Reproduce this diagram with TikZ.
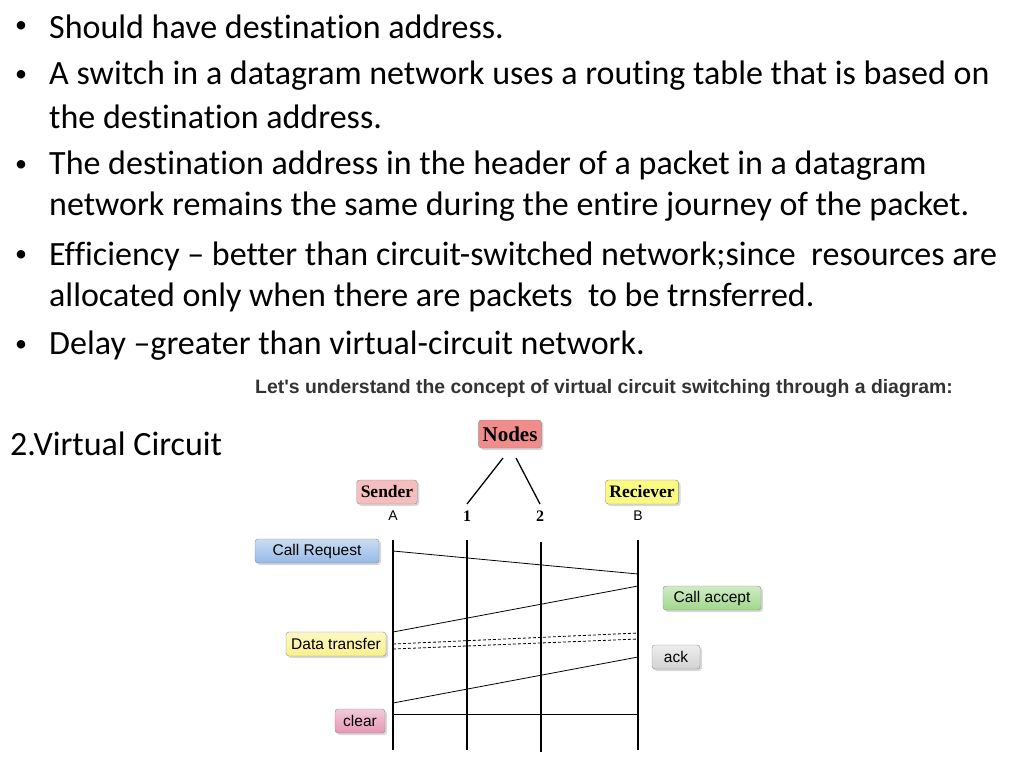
\documentclass[tikz,border=0pt]{standalone}
\usepackage{fontspec}
\setmainfont{Carlito}[Ligatures={NoCommon}]
\newfontfamily\arialf{Liberation Sans}
\newfontfamily\timesf{Liberation Serif}
\usetikzlibrary{shadows}
\definecolor{bluebox}{RGB}{150,185,230}
\definecolor{greenbox}{RGB}{160,215,140}
\definecolor{yellowbox}{RGB}{250,240,140}
\definecolor{graybox}{RGB}{210,210,210}
\definecolor{pinkbox}{RGB}{230,150,180}
\definecolor{redbox}{RGB}{240,140,140}
\definecolor{sendbox}{RGB}{245,190,190}
\definecolor{recvbox}{RGB}{250,250,130}
\tikzset{
 bul/.style={anchor=west,font=\fontsize{34}{36}\selectfont,inner sep=0pt},
 lbl/.style={draw=black!45,rounded corners=3pt,drop shadow={opacity=0.3,shadow xshift=2pt,shadow yshift=-2pt},font=\arialf\fontsize{15.5}{17}\selectfont,minimum height=24pt,inner xsep=4pt},
 hd/.style={draw=black!45,rounded corners=3pt,drop shadow={opacity=0.3,shadow xshift=2pt,shadow yshift=-2pt},font=\timesf\bfseries\fontsize{17.5}{19}\selectfont,minimum height=24pt,inner xsep=4pt},
 vl/.style={line width=2pt},
 ml/.style={line width=0.8pt},
 dl/.style={line width=0.8pt,dashed,dash pattern=on 3pt off 2pt},
 col/.style={font=\arialf\fontsize{14}{15}\selectfont,inner sep=0pt}
}
\begin{document}
\begin{tikzpicture}[x=1pt,y=-1pt]
\useasboundingbox (0,0) rectangle (1024,768);
\foreach \y in {27,76,166,256,346}{\node[font=\fontsize{24}{26}\selectfont,inner sep=0pt] at (21,\y) {•};}
\node[bul] (t1) at (49,27) {Should have destination address.};
\node[bul] (t2) at (49,76) {A switch in a datagram network uses a routing table that is based on};
\node[bul] (t3) at (49,117) {the destination address.};
\node[bul] (t4) at (49,166) {The destination address in the header of a packet in a datagram};
\node[bul] (t5) at (49,207) {network remains the same during the entire journey of the packet.};
\node[bul] (t6) at (49,256) {Efficiency -- better than circuit-switched network;since\ \ resources are};
\node[bul] (t7) at (49,297) {allocated only when there are packets\ \ to be trnsferred.};
\node[bul] (t8) at (49,346) {Delay --greater than virtual-circuit network.};
\node[bul] (vc) at (10,444) {2.Virtual Circuit};
\node[anchor=west,inner sep=0pt,font=\arialf\bfseries\fontsize{19.4}{21}\selectfont,text=black!80] (title) at (255,389) {Let's understand the concept of virtual circuit switching through a diagram:};
% headers
\node[hd,fill=redbox,font=\timesf\bfseries\fontsize{21}{23}\selectfont,minimum height=28pt] (nodes) at (510,434) {Nodes};
\node[hd,fill=sendbox] (sender) at (387,492) {Sender};
\node[hd,fill=recvbox] (recv) at (642,492) {Reciever};
\node[col] (la) at (393,516) {A};
\node[col,font=\timesf\bfseries\fontsize{16}{17}\selectfont] (l1) at (467,516) {1};
\node[col,font=\timesf\bfseries\fontsize{16}{17}\selectfont] (l2) at (540,516) {2};
\node[col] (lb) at (638,516) {B};
\coordinate (n1a) at (503,458); \coordinate (n1b) at (467,504);
\coordinate (n2a) at (516,458); \coordinate (n2b) at (540,504);
\draw[line width=1.3pt] (n1a) -- (n1b);
\draw[line width=1.3pt] (n2a) -- (n2b);
% vertical lines
\coordinate (at) at (393,540); \coordinate (ab) at (393,750);
\coordinate (ot) at (467,540); \coordinate (ob) at (467,750);
\coordinate (tt) at (541,542); \coordinate (tb) at (541,752);
\coordinate (bt) at (638,540); \coordinate (bb) at (638,750);
\draw[vl] (at)--(ab); \draw[vl] (ot)--(ob); \draw[vl] (tt)--(tb); \draw[vl] (bt)--(bb);
% messages
\coordinate (m1a) at (393,551); \coordinate (m1b) at (638,574);
\coordinate (m2b) at (638,586); \coordinate (m2a) at (393,632);
\coordinate (d1a) at (393,644); \coordinate (d1b) at (638,633);
\coordinate (d2a) at (393,649); \coordinate (d2b) at (638,639);
\coordinate (m3b) at (638,657); \coordinate (m3a) at (393,703);
\coordinate (m4a) at (393,714); \coordinate (m4b) at (638,714);
\draw[ml] (m1a)--(m1b);
\draw[ml] (m2b)--(m2a);
\draw[dl] (d1a)--(d1b);
\draw[dl] (d2a)--(d2b);
\draw[ml] (m3b)--(m3a);
\draw[ml] (m4a)--(m4b);
% labels
\node[lbl,top color=bluebox!50,bottom color=bluebox,minimum width=124pt] (cr) at (317,551) {Call Request};
\node[lbl,top color=greenbox!50,bottom color=greenbox,minimum width=98pt] (ca) at (712,598) {Call accept};
\node[lbl,top color=yellowbox!50,bottom color=yellowbox,minimum width=100pt] (dt) at (336,644) {Data transfer};
\node[lbl,top color=graybox!40,bottom color=graybox,minimum width=48pt] (ack) at (676,657) {ack};
\node[lbl,top color=pinkbox!50,bottom color=pinkbox,minimum width=50pt] (clr) at (360,721) {clear};
\end{tikzpicture}
\end{document}
